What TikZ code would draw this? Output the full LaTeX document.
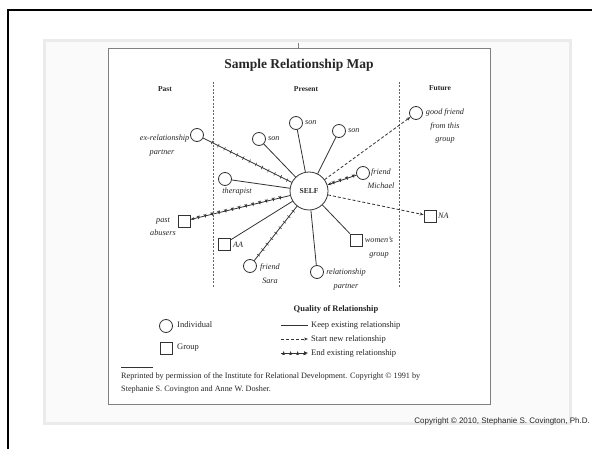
\documentclass[tikz,border=0pt]{standalone}
\usepackage{fontspec}
\setmainfont{Liberation Serif}
\newfontfamily\arialfont{Liberation Sans}
\usetikzlibrary{arrows.meta,decorations.markings}
\begin{document}
\begin{tikzpicture}[x=1pt,y=-1pt,
  ink/.style={draw=black!80, line width=0.8pt},
  indiv/.style={circle, draw=black!80, line width=0.8pt, minimum size=13pt, inner sep=0pt},
  grp/.style={rectangle, draw=black!80, line width=0.8pt, minimum size=12pt, inner sep=0pt},
  lbl/.style={font=\fontsize{8.2}{9}\selectfont\itshape, text=black!85, inner sep=0pt, align=center},
  hdr/.style={font=\fontsize{7.5}{9}\selectfont\bfseries, text=black!85, inner sep=0pt},
  body/.style={font=\fontsize{8.5}{10}\selectfont, text=black!85, inner sep=0pt, anchor=west},
  keeprel/.style={ink},
  newrel/.style={ink, dash pattern=on 3pt off 2pt, -{Stealth[length=4pt,width=3pt]}},
  endrel/.style={ink, postaction={decorate}, decoration={markings, mark=between positions 0.1 and 0.95 step 7pt with {\draw[black!80,line width=0.5pt] (0,-1.9pt) -- (0,1.9pt);}}},
  endtip/.style={-{Stealth[length=4pt,width=3pt]}},
]
\useasboundingbox (0,0) rectangle (592,449);
\fill[white] (0,0) rectangle (592,449);
% slide frame
\draw[black, line width=2pt] (8,449) -- (8,10) -- (592,10);
% gray background
\fill[black!8] (42.5,39) rectangle (572,425);
\fill[black!2] (45.8,42.3) rectangle (568.7,421.7);
% document frame
\fill[white] (108.5,48) rectangle (490,404);
\draw[black!50, line width=0.8pt] (108.5,48) rectangle (490,404);
\draw[black!50, line width=0.5pt] (298,43) -- (298,48);
% title
\node[font=\fontsize{13.5}{15}\selectfont\bfseries, text=black!85] (title) at (299,65) {Sample Relationship Map};
\node[hdr] (past) at (165,89) {Past};
\node[hdr] (present) at (306,89) {Present};
\node[hdr] (future) at (440,88) {Future};
% dividers
\draw[black!60, dash pattern=on 2pt off 1.5pt, line width=0.6pt] (213,82) -- (213,287);
\draw[black!60, dash pattern=on 2pt off 1.5pt, line width=0.6pt] (399,82) -- (399,287);
% center
\node[circle, draw=black!80, line width=0.8pt, minimum size=38pt, inner sep=0pt, font=\fontsize{7.5}{9}\selectfont\bfseries, text=black!85] (self) at (309,191) {SELF};
% nodes
\node[indiv] (exrel) at (197,135) {};
\node[indiv] (son1) at (259,139) {};
\node[indiv] (son2) at (296,123) {};
\node[indiv] (son3) at (339,131) {};
\node[indiv] (good) at (416,113) {};
\node[indiv] (michael) at (363,173) {};
\node[indiv] (therapist) at (225,179) {};
\node[grp] (abusers) at (184,221) {};
\node[grp] (na) at (430,216) {};
\node[grp] (aa) at (224,244) {};
\node[grp] (women) at (356,240) {};
\node[indiv] (sara) at (250,266) {};
\node[indiv] (partner) at (317,272) {};
% labels
\node[lbl, anchor=east] (lexrel) at (189.5,139) {ex-relationship};
\node[lbl] (lexrel2) at (162,153) {partner};
\node[lbl, anchor=west] (lson1) at (268,139) {son};
\node[lbl, anchor=west] (lson2) at (305,123) {son};
\node[lbl, anchor=west] (lson3) at (348,131) {son};
\node[lbl, anchor=north, font=\fontsize{8.2}{13.5}\selectfont\itshape] (lgood) at (445,109) {good friend\\from this\\group};
\node[lbl, anchor=north, font=\fontsize{8.2}{13.5}\selectfont\itshape] (lmichael) at (381,169) {friend\\Michael};
\node[lbl] (lther) at (237,192) {therapist};
\node[lbl, anchor=north, font=\fontsize{8.2}{12.5}\selectfont\itshape] (labusers) at (163,218) {past\\abusers};
\node[lbl, anchor=west] (lna) at (438,216) {NA};
\node[lbl, anchor=west] (laa) at (233,245) {AA};
\node[lbl, anchor=north, font=\fontsize{8.2}{14}\selectfont\itshape] (lwomen) at (379,237) {women's\\group};
\node[lbl, anchor=north, font=\fontsize{8.2}{14}\selectfont\itshape] (lsara) at (270,264) {friend\\Sara};
\node[lbl, anchor=north, font=\fontsize{8.2}{14}\selectfont\itshape] (lpartner) at (346,269) {relationship\\partner};
% connectors
\draw[endrel] (exrel) -- (self);
\draw[keeprel] (son1) -- (self);
\draw[keeprel] (son2) -- (self);
\draw[keeprel] (son3) -- (self);
\draw[newrel] (self) -- (good);
\draw[endrel, endtip] (michael) -- (self);
\draw[keeprel] (therapist) -- (self);
\draw[endrel, endtip] (self) -- (abusers);
\draw[newrel] (self) -- (na);
\draw[keeprel] (aa) -- (self);
\draw[keeprel] (women) -- (self);
\draw[endrel] (sara) -- (self);
\draw[keeprel] (partner) -- (self);
% legend
\node[font=\fontsize{8.5}{10}\selectfont\bfseries, text=black!85, inner sep=0pt] (qual) at (336,309) {Quality of Relationship};
\node[indiv] (legind) at (166,326) {};
\node[body] (legindt) at (177,325) {Individual};
\node[grp] (leggrp) at (166,348) {};
\node[body] (leggrpt) at (177,348) {Group};
\coordinate (k1) at (281,325); \coordinate (k2) at (308,325);
\coordinate (s1) at (281,339); \coordinate (s2) at (308,339);
\coordinate (e1) at (281,353); \coordinate (e2) at (308,353);
\draw[keeprel] (k1) -- (k2);
\draw[newrel] (s1) -- (s2);
\draw[endrel, endtip] (e1) -- (e2);
\node[body] (keept) at (311,325) {Keep existing relationship};
\node[body] (startt) at (311,339) {Start new relationship};
\node[body] (endt) at (311,353) {End existing relationship};
% footnote
\coordinate (r1) at (121,367); \coordinate (r2) at (153,367);
\draw[black!80, line width=0.8pt] (r1) -- (r2);
\node[body, font=\fontsize{8.2}{13}\selectfont, anchor=north west, align=left] (reprint) at (121,373) {Reprinted by permission of the Institute for Relational Development. Copyright \textcopyright{} 1991 by\\Stephanie S. Covington and Anne W. Dosher.};
% slide copyright
\node[font=\arialfont\fontsize{8}{9}\selectfont, text=black!85, inner sep=0pt, anchor=east] (copy) at (590,421) {Copyright \textcopyright{} 2010, Stephanie S. Covington, Ph.D.};
\end{tikzpicture}
\end{document}
